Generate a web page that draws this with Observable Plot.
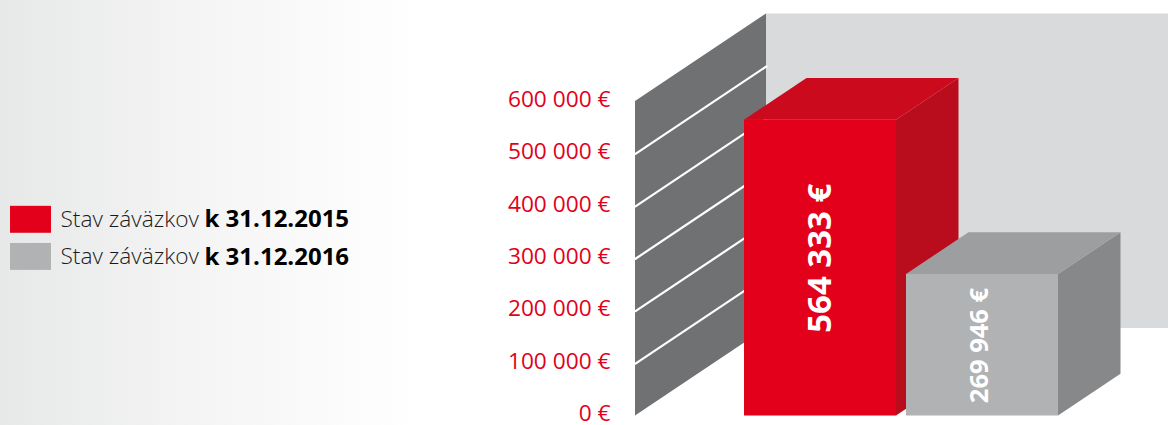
<!DOCTYPE html>
<html lang="sk">
<head>
<meta charset="utf-8">
<title>Stav záväzkov</title>
<script src="https://cdn.jsdelivr.net/npm/d3@7"></script>
<script src="https://cdn.jsdelivr.net/npm/@observablehq/plot@0.6"></script>
<style>
  html, body { margin: 0; padding: 0; width: 1168px; height: 425px; overflow: hidden; background: #fff; }
  body { background: linear-gradient(to right, #e7e8e8 0, #f4f4f4 190px, #ffffff 420px); }
  svg { display: block; overflow: visible; }
</style>
</head>
<body>
<script>
// Liabilities at the end of each year, in euros
const years = ["k 31.12.2015", "k 31.12.2016"];
const liabilities = [564333, 269946];
const legendPrefix = "Stav záväzkov";
const axisTicks = [0, 100000, 200000, 300000, 400000, 500000, 600000];
const gridTicks = [100000, 200000, 300000, 400000, 500000];
const valueLabels = ["564 333 €", "269 946 €"];

// Box drawing: widths run along x, depth is sheared up and to the right
const wallTop = 600000, wallDepth = 131, backRight = 533;
const barDepth = 62.5, shear = 1275;      // euros of lift per unit of depth
const barStart = [109, 271], barWidth = 152;
const labelX = [185, 344], labelAt = [301000, 134500], labelSize = [33, 25.5];

// Legend rows, placed on the same euro scale as the rest of the chart
const legendLeft = -625, legendSwatch = 41, legendText = -575, legendBold = -431;
const legendRowTop = [400000, 329200], legendSwatchSpan = 51400, legendMidOffset = 25700;

const frontFill = ["#e2001a", "#b1b2b4"];
const topFill = ["#cb0a1e", "#9d9e9f"];
const sideFill = ["#b90c1c", "#87888a"];
const red = "#e2001a";
const font = "'Open Sans', sans-serif";

const bars = years.map((year, i) => ({
  year, value: liabilities[i], x0: barStart[i], x1: barStart[i] + barWidth,
  front: frontFill[i], top: topFill[i], side: sideFill[i],
  label: valueLabels[i], labelX: labelX[i], labelAt: labelAt[i], labelSize: labelSize[i],
  rowTop: legendRowTop[i]
}));

const lift = (d) => d * shear;
const euro = d3.formatLocale({thousands: " ", grouping: [3], decimal: ","}).format(",");

// Slanted faces are two-point areas: side faces keep vertical edges, top faces horizontal ones
const sideFace = (b) => [0, barDepth].map((d) => ({
  x: b.x1 + d, y1: lift(d), y2: b.value + lift(d)
}));
const topFace = (b) => [0, barDepth].map((d) => ({
  y: b.value + lift(d), x1: b.x0 + d, x2: b.x1 + d
}));
const wall = [0, wallDepth].map((d) => ({x: d, y1: lift(d), y2: wallTop + lift(d)}));

const boxMarks = (b) => [
  Plot.areaY(sideFace(b), {x: "x", y1: "y1", y2: "y2", fill: b.side}),
  Plot.areaX(topFace(b), {y: "y", x1: "x1", x2: "x2", fill: b.top}),
  Plot.rect([b], {x1: "x0", x2: "x1", y1: 0, y2: "value", fill: b.front}),
  Plot.text([b], {
    x: "labelX", y: "labelAt", text: "label", rotate: -90, fill: "white",
    fontWeight: 700, fontSize: b.labelSize, fontFamily: font
  })
];

const chart = Plot.plot({
  width: 1168,
  height: 425,
  margin: 0,
  style: {background: "transparent", fontFamily: font},
  x: {domain: [-635, 533], range: [0, 1168], axis: null},
  y: {domain: [0, 600000], range: [415.5, 101], axis: null},
  marks: [
    // Back wall and the slanted side wall with its gridlines
    Plot.rect([0], {x1: wallDepth, x2: backRight, y1: lift(wallDepth), y2: wallTop + lift(wallDepth), fill: "#d9dadc"}),
    Plot.areaY(wall, {x: "x", y1: "y1", y2: "y2", fill: "#707173"}),
    ...gridTicks.map((t) => Plot.line([0, wallDepth], {
      x: (d) => d, y: (d) => t + lift(d), stroke: "white", strokeWidth: 2.2
    })),

    // Euro scale beside the wall
    Plot.text(axisTicks, {
      x: -25, y: (d) => d, text: (d) => `${euro(d)} €`, dy: -2,
      textAnchor: "end", fill: red, fontSize: 22.7, fontFamily: font
    }),

    ...boxMarks(bars[0]),
    ...boxMarks(bars[1]),

    // Legend: swatch, plain prefix, bold date
    Plot.rect(bars, {
      x1: legendLeft, x2: legendLeft + legendSwatch,
      y1: (b) => b.rowTop - legendSwatchSpan, y2: "rowTop", fill: "front"
    }),
    Plot.text(bars, {
      x: legendText, y: (b) => b.rowTop - legendMidOffset, text: () => legendPrefix,
      textAnchor: "start", fill: "#1a1a1a", fontSize: 22.7, fontFamily: font, fontWeight: 300
    }),
    Plot.text(bars, {
      x: legendBold, y: (b) => b.rowTop - legendMidOffset, text: "year",
      textAnchor: "start", fill: "#000", fontSize: 24, fontFamily: font, fontWeight: 700
    })
  ]
});
document.body.appendChild(chart);
</script>
</body>
</html>
